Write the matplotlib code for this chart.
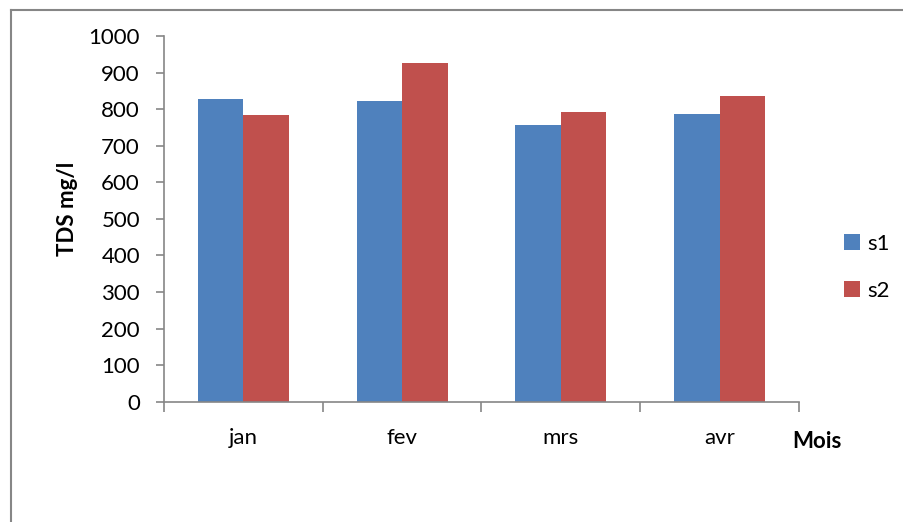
import matplotlib
matplotlib.use("Agg")
import matplotlib.pyplot as plt
import numpy as np
from matplotlib.lines import Line2D

months = ["jan", "fev", "mrs", "avr"]
s1 = [829, 823, 756, 786]
s2 = [785, 927, 793, 837]
yticks = [0, 100, 200, 300, 400, 500, 600, 700, 800, 900, 1000]

W, H = 904, 522
FS = 16
fig = plt.figure(figsize=(W / 100, H / 100), dpi=100)
plt.rcParams["font.family"] = ["Lato", "DejaVu Sans"]

ax = fig.add_axes([164 / W, 1 - 401.7 / H, (799 - 164) / W, (401.7 - 36) / H])

x = np.arange(len(months))
bw = 0.2865
b1 = ax.bar(x - bw / 2, s1, width=bw, color="#4F81BD", label="s1", zorder=2)
b2 = ax.bar(x + bw / 2, s2, width=bw, color="#C0504D", label="s2", zorder=2)

ax.set_xlim(-0.5, len(months) - 0.5)
ax.set_ylim(0, 1000)
ax.set_yticks(yticks)
ax.set_yticklabels([str(v) for v in yticks])

# category ticks sit between groups; labels sit at group centres
ax.set_xticks(np.arange(len(months) + 1) - 0.5)
ax.set_xticklabels([])
ax.set_xticks(x, minor=True)
ax.set_xticklabels(months, minor=True)
ax.tick_params(axis="x", which="minor", length=0, pad=19, labelsize=FS)
ax.tick_params(axis="x", which="major", length=7.2, color="#868686", width=1.2)
ax.tick_params(axis="y", length=5.8, color="#868686", width=1.2, pad=11.5,
               labelsize=FS)

for side in ("top", "right"):
    ax.spines[side].set_visible(False)
for side in ("left", "bottom"):
    ax.spines[side].set_color("#868686")
    ax.spines[side].set_linewidth(1.2)

fig.text(67 / W, 1 - 209 / H, "TDS mg/l", rotation=90, fontsize=FS,
         fontweight="bold", ha="center", va="center")
fig.text(816.5 / W, 1 - 442 / H, "Mois", fontsize=FS, fontweight="bold",
         ha="center", va="center")

leg = fig.legend(handles=[b1, b2], labels=["s1", "s2"], loc="upper left",
                 bbox_to_anchor=(824 / W, 1 - 214 / H), frameon=False,
                 fontsize=FS, handlelength=0.7, handleheight=0.7,
                 handletextpad=0.35, labelspacing=1.2)

# chart frame
fig.add_artist(Line2D([11 / W, 11 / W], [0, 1 - 10 / H], color="#868686", lw=1.5))
fig.add_artist(Line2D([11 / W, 1], [1 - 10 / H, 1 - 10 / H], color="#868686", lw=1.5))

fig.savefig("out.png", dpi=100)
